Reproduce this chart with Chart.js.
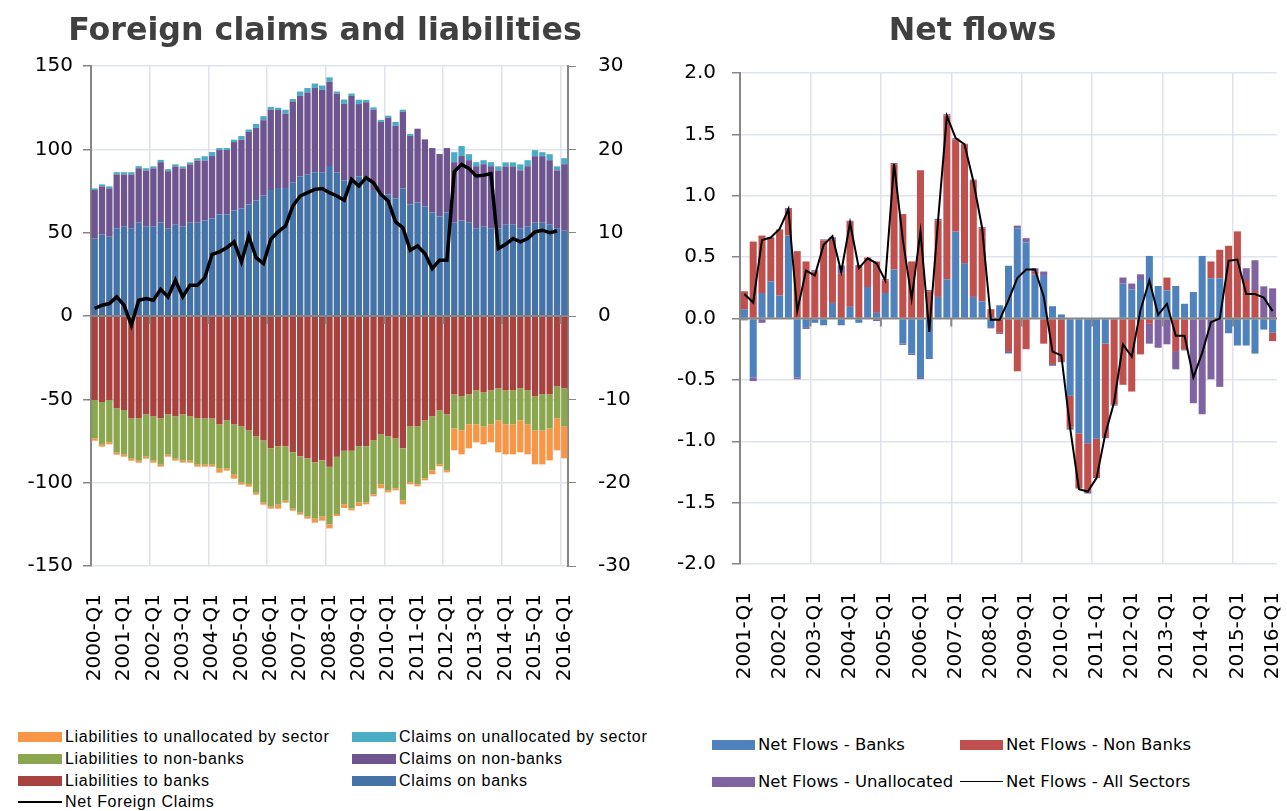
<!DOCTYPE html>
<html>
<head>
<meta charset="utf-8">
<script src="https://cdn.jsdelivr.net/npm/chart.js@4.4.0/dist/chart.umd.min.js"></script>
<style>
  body { margin: 0; background: #fff; width: 1287px; height: 811px; position: relative; overflow: hidden; }
  #left { position: absolute; left: 0; top: 0; }
  #right { position: absolute; left: 668px; top: 0; }
  .key { position: absolute; white-space: nowrap; color: #000; line-height: 20px; }
  .key i { position: absolute; left: 0; top: 5px; height: 10px; }
  .key b { position: absolute; left: 0; top: 9px; height: 0; border-top: 2.5px solid #000; }
  .kl { font-family: 'Liberation Sans', sans-serif; font-size: 16px; letter-spacing: 0.7px; padding-left: 47px; }
  .kl i, .kl b { width: 44px; }
  .kr { font-family: 'DejaVu Sans', sans-serif; font-size: 16.5px; padding-left: 46px; }
  .kr i, .kr b { width: 43px; }
</style>
</head>
<body>
<canvas id="left" width="650" height="700"></canvas>
<canvas id="right" width="630" height="700"></canvas>

<div class="key kl" style="left:18px;top:727px"><i style="background:#f79646"></i>Liabilities to unallocated by sector</div>
<div class="key kl" style="left:18px;top:749px"><i style="background:#8aa64f"></i>Liabilities to non-banks</div>
<div class="key kl" style="left:18px;top:771px"><i style="background:#a8423f"></i>Liabilities to banks</div>
<div class="key kl" style="left:18px;top:792px"><b></b>Net Foreign Claims</div>
<div class="key kl" style="left:352px;top:727px"><i style="background:#4bacc6"></i>Claims on unallocated by sector</div>
<div class="key kl" style="left:352px;top:749px"><i style="background:#6f5590"></i>Claims on non-banks</div>
<div class="key kl" style="left:352px;top:771px"><i style="background:#4573a7"></i>Claims on banks</div>

<div class="key kr" style="left:712px;top:735px"><i style="background:#4f81bd"></i>Net Flows - Banks</div>
<div class="key kr" style="left:960px;top:735px"><i style="background:#c0504d"></i>Net Flows - Non Banks</div>
<div class="key kr" style="left:712px;top:772px"><i style="background:#8064a2"></i>Net Flows - Unallocated</div>
<div class="key kr" style="left:960px;top:772px"><b style="border-top-width:1.5px"></b>Net Flows - All Sectors</div>

<script>
// quarter labels
const quartersLeft = [];
const quartersRight = [];
for (let y = 2000; y <= 2016; y++) {
  for (let q = 1; q <= 4; q++) {
    if (quartersLeft.length < 65) quartersLeft.push(y + '-Q' + q);
    if (y >= 2001 && quartersRight.length < 61) quartersRight.push(y + '-Q' + q);
  }
}

// left chart: stocks
const claimsBanks = [46.4,49,47.6,52.4,53.6,52.4,56,53.6,53.6,56,52.4,54.8,53.6,56,56,57.3,58.5,60.9,60.9,63.3,
  64.5,67,69.4,72.2,75.6,76.8,76.8,80.2,83.9,85,86.3,86.3,90,86.3,81.5,81.5,83.9,81.5,75.6,73,
  73,70.6,76.6,67,68.1,65.7,62.1,59.7,62.1,56,57.3,56,52.4,53.6,52.4,52.4,54.8,54.8,52.4,53.6,
  56,56,54.8,52.4,51.2];
const claimsNonBanks = [29.2,28.8,29,32.5,31.3,32.5,32.7,33.7,35,36.3,34.5,35,35,35,37.3,36,37.5,38.7,38.7,41.1,
  41.3,43.5,43.5,45.3,48.2,46.8,44.6,48.6,48.2,49.2,50.6,49.4,50.6,47.2,45.8,50.6,43.3,46.8,48.2,43.5,
  46,43.5,46,41.1,44.3,40.3,38.7,37.5,38.7,36.3,38.7,37.5,37.5,37.5,37.5,35,35,35,35,36.3,
  39.9,39.9,38.7,35,39.9];
const claimsUnalloc = [1,1.2,1.2,1.4,1.4,1.4,1.2,1.4,1.2,1.4,1.2,1.2,1.2,1.2,1.4,2.6,2.4,1.2,1.2,1.4,
  2.2,1.4,2.4,2.4,1.6,1.4,2.4,1.4,2.6,2.6,2.6,2.6,2.6,1.2,2.6,1.4,2.6,1.4,1.4,1.2,
  1.2,2.4,1.2,1.2,0,0,0,0,0,6,6,3.6,2.4,2.4,2.4,2.4,2.4,2.4,3.6,3.6,
  3.6,2.4,3.6,2.4,3.6];
const liabBanks = [-50.4,-51.6,-50.4,-55.4,-56.4,-61.4,-61.4,-59,-60.2,-61.4,-59,-60.2,-59,-60.2,-61.4,-61.4,-61.4,-65,-62.6,-65,
  -66.2,-68.6,-72.2,-74.6,-79.4,-78.2,-78.2,-81.8,-84.2,-85.4,-87.8,-86.6,-90.4,-84.4,-80.8,-80.8,-78.2,-78.2,-74.6,-71,
  -72.2,-73.4,-79.4,-66.2,-66.2,-62.6,-60.2,-56.6,-59,-47,-48.2,-47,-44.6,-45.8,-44.6,-43.4,-44.6,-44.6,-43.4,-44.6,
  -48.2,-47,-47,-42.2,-43.4];
const liabNonBanks = [-23,-25.6,-25.4,-26.6,-26.8,-24.2,-25.4,-25.4,-26.6,-27.8,-24.2,-25.4,-27.8,-26.6,-27.8,-27.8,-27.8,-26.6,-29,-30.2,
  -33.8,-32.6,-33.8,-37.4,-35,-35,-32.6,-33.8,-33.8,-35,-33.8,-33.8,-34.6,-34.4,-32.2,-34.6,-33.6,-33.6,-32.4,-30,
  -32.4,-30,-31.2,-33.6,-34.8,-34.8,-32.4,-32.4,-33.6,-20.4,-20.4,-18,-20.4,-20.4,-20.4,-19.2,-20.4,-20.4,-19.2,-20.4,
  -20.4,-21.6,-20.4,-19.2,-22.8];
const liabUnalloc = [-1.4,-1.2,-1.2,-1.2,-1.2,-1.2,-1.2,-1.2,-1.2,-1.2,-1.2,-1.2,-1.2,-1.2,-1.2,-1.2,-1.2,-2.4,-1.2,-2.4,
  -1.2,-1.2,-1.2,-1.2,-1.2,-2.4,-1.2,-1.2,-1.2,-1.2,-2.4,-2.4,-2.4,-1.2,-2.2,-1.2,-2.2,-1.2,-1.2,-2.4,
  -1.2,-1.2,-2.4,-1.2,-1.2,-1.2,-2.4,-1.2,-1.2,-13.2,-14.4,-14.4,-10.8,-10.8,-10.8,-19.2,-18,-18,-19.2,-18,
  -20.4,-20.4,-19.2,-19.2,-19.2];
const netClaims = [0.9,1.3,1.5,2.3,1.3,-1.1,1.9,2.1,1.9,3.2,2.3,4.3,2.3,3.7,3.7,4.6,7.4,7.7,8.2,8.9,
  6.5,9.6,7.0,6.3,9.2,10.1,10.8,13.2,14.4,14.8,15.2,15.3,14.8,14.4,13.9,16.4,15.6,16.6,16.0,14.6,
  13.8,11.3,10.6,7.9,8.4,7.5,5.7,6.7,6.7,17.3,18.2,17.7,16.8,16.9,17.1,8.1,8.6,9.3,8.9,9.3,
  10.1,10.3,10.0,10.2,null];

// right chart: flows
const flowsBanks = [0.076,-0.48,0.208,0.303,0.189,0.676,-0.48,-0.07,-0.035,-0.055,0.127,-0.055,0.095,-0.035,0.257,0.046,0.208,0.40,-0.205,-0.287,
  -0.484,-0.33,0.176,0.32,0.708,0.451,0.176,0.14,-0.07,0.108,0.43,0.735,0.62,0.36,0.347,0.10,0.033,-0.63,-0.935,-1.016,
  -0.98,-0.205,0,0.284,0.235,0.314,0.51,0.265,0.23,0.265,0.12,0.216,0.51,0.328,0.328,-0.12,-0.22,-0.22,-0.286,-0.09,
  -0.116];
const flowsNonBanks = [0.146,0.627,0.468,0.354,0.532,0.208,0.549,0.465,0.384,0.635,0.514,0.37,0.692,0.427,0.24,0.419,0.103,0.857,0.851,0.465,
  1.208,0.222,0.622,1.335,0.751,0.968,0.946,0.595,0.076,-0.116,-0.265,-0.43,-0.25,0.02,-0.205,-0.37,-0.346,-0.26,-0.45,-0.39,
  -0.32,-0.76,-0.70,-0.54,-0.595,-0.292,-0.043,0,0.104,-0.265,-0.25,0,0,0.137,0.232,0.593,0.71,0.314,0.224,0,
  -0.068];
const flowsUnalloc = [-0.015,-0.03,-0.035,0.005,0.005,0.016,-0.015,-0.015,0.01,0.01,0.02,0.062,0.01,0.01,0,-0.02,0.01,0.01,-0.01,-0.01,
  -0.01,0.01,0.014,0.01,0.01,0.005,0.01,0.01,-0.01,-0.01,-0.02,0.022,0.035,0.03,0.036,-0.015,-0.01,-0.015,0,-0.02,
  0,-0.01,-0.01,0.05,0.05,0.046,-0.162,-0.238,-0.21,-0.149,-0.01,-0.69,-0.78,-0.495,-0.557,0,0,0.096,0.251,0.262,
  0.246];
const flowsAll = [0.20,0.13,0.64,0.66,0.73,0.89,0.06,0.39,0.35,0.60,0.67,0.38,0.78,0.41,0.49,0.45,0.31,1.26,0.64,0.16,
  0.71,-0.11,0.80,1.65,1.47,1.42,1.12,0.74,-0.01,-0.01,0.15,0.33,0.40,0.40,0.18,-0.27,-0.30,-0.89,-1.39,-1.41,
  -1.30,-0.94,-0.68,-0.21,-0.31,0.07,0.31,0.03,0.12,-0.14,-0.14,-0.48,-0.28,-0.03,0.00,0.47,0.48,0.20,0.20,0.17,
  0.06];

Chart.defaults.font.family = "'DejaVu Sans', sans-serif";
Chart.defaults.font.size = 20;
Chart.defaults.color = '#000';

const axisGrey = '#868686';
const gridBlue = '#dde4ee';

// excel style horizontal axis at zero, drawn under the line series
const zeroAxis = {
  id: 'zeroAxis',
  beforeDatasetDraw(chart, args) {
    if (chart.data.datasets[args.index].type !== 'line') return;
    const { ctx, chartArea, scales } = chart;
    const y0 = scales.y.getPixelForValue(0);
    const x = scales.x;
    ctx.save();
    ctx.strokeStyle = axisGrey;
    ctx.lineWidth = 2;
    ctx.beginPath();
    ctx.moveTo(chartArea.left, y0);
    ctx.lineTo(chartArea.right, y0);
    for (let i = 8; i < x.ticks.length; i += 8) {
      const px = (x.getPixelForTick(i - 1) + x.getPixelForTick(i)) / 2;
      ctx.moveTo(px, y0);
      ctx.lineTo(px, y0 + 8);
    }
    ctx.stroke();
    ctx.restore();
  }
};

function xAxis(height) {
  return {
    stacked: true,
    offset: true,
    border: { display: false },
    grid: {
      offset: true,
      drawTicks: false,
      lineWidth: 1.5,
      color: c => (c.index > 0 && c.index % 8 === 0) ? '#dfe2e8' : 'rgba(0,0,0,0)'
    },
    ticks: {
      autoSkip: false,
      minRotation: 90,
      maxRotation: 90,
      padding: 28,
      callback: function (v, i) { return i % 4 === 0 ? this.getLabelForValue(v) : ''; }
    },
    afterFit: s => {
      s.height = height;
      s.paddingLeft = 0;
      s.paddingRight = 0;
    }
  };
}

function yGrid() {
  return {
    lineWidth: 1.5,
    tickLength: 8,
    tickColor: axisGrey,
    color: c => c.tick.value === 0 ? 'rgba(0,0,0,0)' : gridBlue
  };
}

// Foreign claims and liabilities
new Chart(document.getElementById('left'), {
  type: 'bar',
  data: {
    labels: quartersLeft,
    datasets: [
      { label: 'Claims on banks', data: claimsBanks, backgroundColor: '#4573a7', order: 1 },
      { label: 'Claims on non-banks', data: claimsNonBanks, backgroundColor: '#6f5590', order: 1 },
      { label: 'Claims on unallocated by sector', data: claimsUnalloc, backgroundColor: '#4bacc6', order: 1 },
      { label: 'Liabilities to banks', data: liabBanks, backgroundColor: '#a8423f', order: 1 },
      { label: 'Liabilities to non-banks', data: liabNonBanks, backgroundColor: '#8aa64f', order: 1 },
      { label: 'Liabilities to unallocated by sector', data: liabUnalloc, backgroundColor: '#f79646', order: 1 },
      { type: 'line', label: 'Net Foreign Claims', data: netClaims, yAxisID: 'y2', borderColor: '#000',
        borderWidth: 3.5, pointRadius: 0, tension: 0, order: 0 }
    ]
  },
  options: {
    responsive: false,
    animation: false,
    barPercentage: 0.86,
    categoryPercentage: 1,
    layout: { padding: 0 },
    plugins: {
      legend: { display: false },
      tooltip: { enabled: false },
      title: {
        display: true,
        text: 'Foreign claims and liabilities',
        color: '#404040',
        font: { size: 31.7, weight: 'bold' },
        padding: { top: 13, bottom: 15 }
      }
    },
    scales: {
      x: xAxis(134),
      y: {
        stacked: true,
        min: -150, max: 150,
        ticks: { stepSize: 50, padding: 10 },
        border: { color: axisGrey, width: 2 },
        grid: yGrid(),
        afterFit: s => { s.width = 91; }
      },
      y2: {
        position: 'right',
        min: -30, max: 30,
        ticks: { stepSize: 10, padding: 22 },
        border: { color: axisGrey, width: 2 },
        grid: { drawOnChartArea: false, tickLength: 8, tickColor: axisGrey },
        afterFit: s => { s.width = 82; }
      }
    }
  },
  plugins: [zeroAxis]
});

// Net flows
new Chart(document.getElementById('right'), {
  type: 'bar',
  data: {
    labels: quartersRight,
    datasets: [
      { label: 'Net Flows - Banks', data: flowsBanks, backgroundColor: '#4f81bd', order: 1 },
      { label: 'Net Flows - Non Banks', data: flowsNonBanks, backgroundColor: '#c0504d', order: 1 },
      { label: 'Net Flows - Unallocated', data: flowsUnalloc, backgroundColor: '#8064a2', order: 1 },
      { type: 'line', label: 'Net Flows - All Sectors', data: flowsAll, stack: 'line', borderColor: '#000',
        borderWidth: 2, pointRadius: 0, tension: 0, order: 0 }
    ]
  },
  options: {
    responsive: false,
    animation: false,
    barPercentage: 0.8,
    categoryPercentage: 1,
    layout: { padding: { right: 21 } },
    plugins: {
      legend: { display: false },
      tooltip: { enabled: false },
      title: {
        display: true,
        text: 'Net flows',
        color: '#404040',
        font: { size: 31.7, weight: 'bold' },
        padding: { top: 13, bottom: 22 }
      }
    },
    scales: {
      x: xAxis(136),
      y: {
        stacked: true,
        min: -2, max: 2,
        ticks: { stepSize: 0.5, padding: 16, callback: v => v.toFixed(1) },
        border: { color: axisGrey, width: 2 },
        grid: yGrid(),
        afterFit: s => { s.width = 72; }
      }
    }
  },
  plugins: [zeroAxis]
});
</script>
</body>
</html>
